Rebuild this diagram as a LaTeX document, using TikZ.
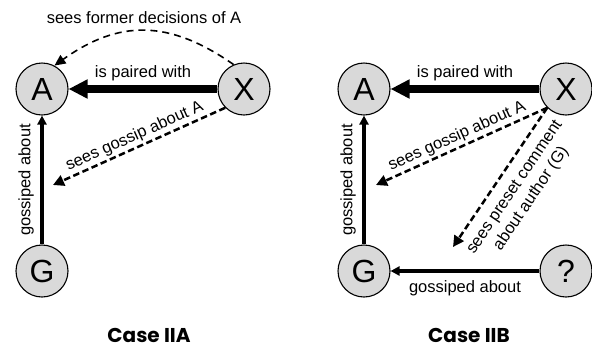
\documentclass[tikz,border=0pt]{standalone}
\usepackage{fontspec}
\setmainfont{Liberation Sans}
\newfontfamily\casefont{Poppins}
\usetikzlibrary{arrows.meta}
\definecolor{nodegray}{HTML}{D9D9D9}
\tikzset{
  ent/.style={circle, draw=black, line width=1.1pt, fill=nodegray, minimum size=52pt, inner sep=0pt, font=\fontsize{32}{32}\selectfont},
  lbl/.style={font=\fontsize{16.5}{20}\selectfont, inner sep=2pt},
  paired/.style={line width=7.5pt, -{Triangle[length=19pt,width=18pt]}},
  gossip/.style={line width=4.5pt, -{Triangle[length=9pt,width=9pt]}},
  sees/.style={line width=2.5pt, dash pattern=on 6.5pt off 3.5pt, -{Triangle[length=11pt,width=11pt]}},
  former/.style={line width=1.6pt, dash pattern=on 7pt off 5pt, -{Triangle[length=11pt,width=10pt]}},
  casetitle/.style={font=\casefont\bfseries\fontsize{20}{24}\selectfont, anchor=base, inner sep=0pt}
}
\begin{document}
\begin{tikzpicture}[x=1pt,y=1pt]
\useasboundingbox (0,0) rectangle (592,-349);
% Case IIA
\node[ent] (A1) at (42,-89) {A};
\node[ent] (X1) at (244,-89) {X};
\node[ent] (G1) at (42,-271) {G};
\coordinate (T1) at (53,-185);
\draw[paired] (X1) -- node[lbl, above=2pt] {is paired with} (A1);
\draw[gossip] (G1) -- node[lbl, sloped, above=4pt] {gossiped about} (A1);
\draw[sees] (X1.225) -- node[lbl, sloped, above=0pt] {sees gossip about A} (T1);
\draw[former] (X1.113) .. controls (169,-19.5) and (119,-19.5) .. node[lbl, above=4pt] {sees former decisions of A} (A1.62);
\node[casetitle] (C1) at (149,-342) {Case IIA};
% Case IIB
\node[ent] (A2) at (364,-89) {A};
\node[ent] (X2) at (566,-89) {X};
\node[ent] (G2) at (364,-271) {G};
\node[ent] (Q2) at (566,-271) {?};
\coordinate (T2) at (376,-185);
\coordinate (T3) at (453,-247);
\draw[paired] (X2) -- node[lbl, above=2pt] {is paired with} (A2);
\draw[gossip] (G2) -- node[lbl, sloped, above=4pt] {gossiped about} (A2);
\draw[gossip] (Q2) -- node[lbl, below=5pt] {gossiped about} (G2);
\draw[sees] (X2.225) -- node[lbl, sloped, above=0pt] {sees gossip about A} (T2);
\draw[sees] (X2.225) -- node[lbl, sloped, below=8pt, align=center] {sees preset comment\\about author (G)} (T3);
\node[casetitle] (C2) at (469,-342) {Case IIB};
\end{tikzpicture}
\end{document}
